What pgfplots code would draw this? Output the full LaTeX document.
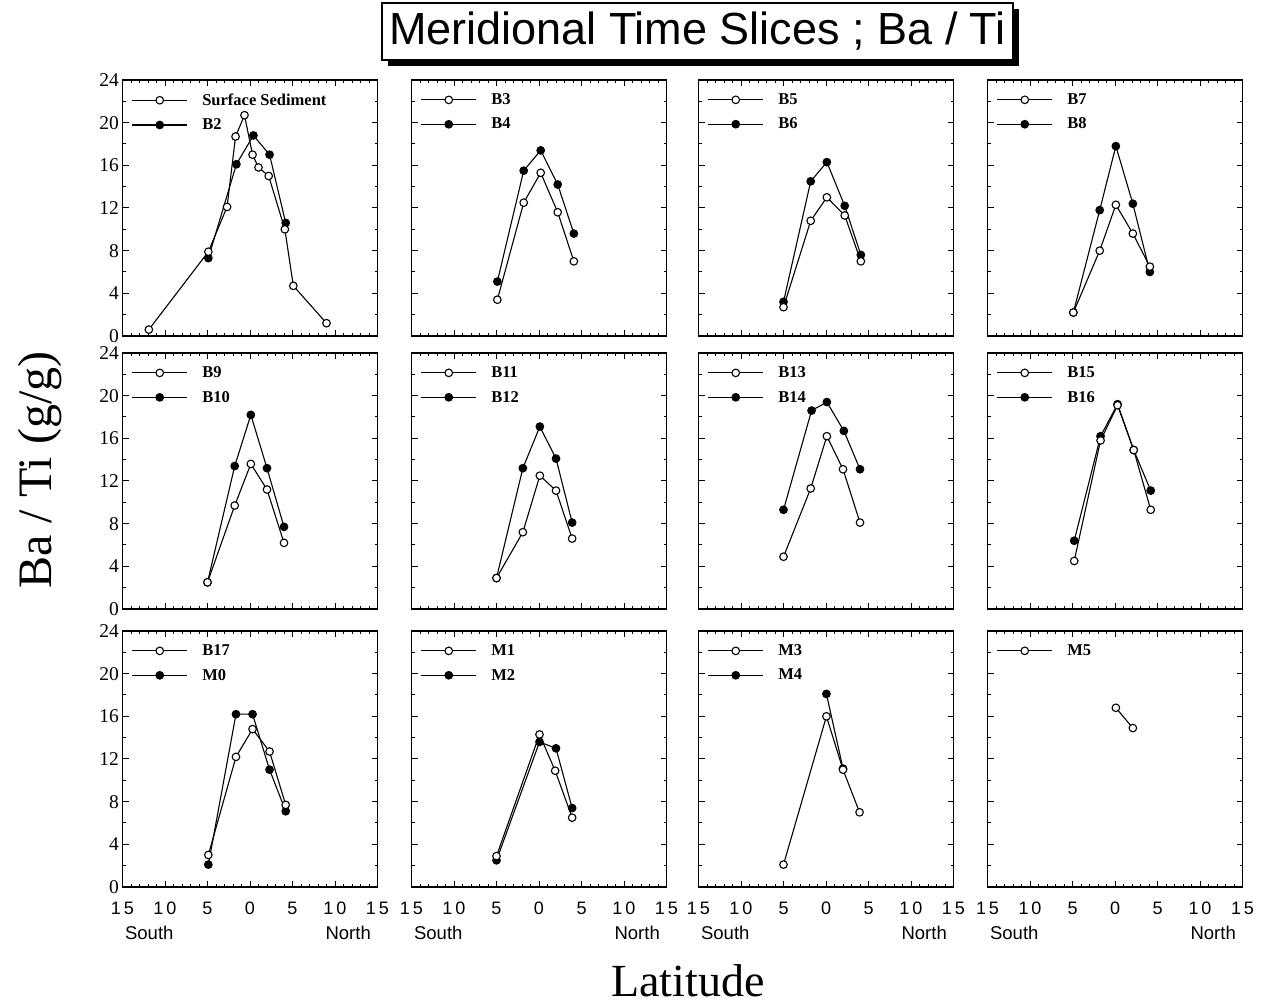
\documentclass[border=0pt]{standalone}
\usepackage{pgfplots}
\pgfplotsset{compat=1.18}
\usepackage{fontspec}
\setmainfont{Liberation Serif}
\setsansfont{Liberation Sans}
\usetikzlibrary{shadows}

\pgfplotsset{
 panel/.style={
  scale only axis, width=255pt, height=256pt, anchor=north west,
  xmin=-15,xmax=15,ymin=0,ymax=24,
  xtick={-15,-10,...,15}, minor x tick num=4,
  ytick={0,4,...,24}, minor y tick num=1,
  tick align=inside, major tick length=6pt, minor tick length=3pt,
  every tick/.style={line width=1pt, black},
  axis line style={line width=1.6pt},
  xticklabels={}, yticklabels={},
  clip=false,
  reverse legend,
  legend cell align=left,
  legend style={at={(0,1)}, anchor=north west, xshift=6pt, yshift=-9pt,
    draw=none, fill=none, font=\fontsize{16.5}{17}\selectfont\bfseries,
    row sep=7pt, column sep=12pt, nodes={inner sep=2.5pt}},
  legend image code/.code={\draw[mark repeat=2,mark phase=2,##1] plot coordinates {(0pt,0pt) (27.5pt,0pt) (55pt,0pt)};},
 },
 openS/.style={black, line width=1.1pt, mark=*, mark size=3.8pt, mark options={fill=white, solid}},
 fillS/.style={black, line width=1.1pt, mark=*, mark size=3.8pt, mark options={fill=black, solid}},
 leftcol/.style={yticklabels={0,4,8,12,16,20,24}, yticklabel style={font=\fontsize{19.5}{19.5}\selectfont}},
 bottomrow/.style={xticklabels={1\,5,1\,0,5,0,5,1\,0,1\,5}, xticklabel style={font=\sffamily\fontsize{18}{18}\selectfont, text height=13pt, text depth=0pt, yshift=-11pt}},
}
\newcommand{\SN}{%
 \node[font=\sffamily\fontsize{18.5}{18.5}\selectfont] at (rel axis cs:0.105,0) [yshift=-46pt] {South};
 \node[font=\sffamily\fontsize{18.5}{18.5}\selectfont] at (rel axis cs:0.885,0) [yshift=-46pt] {North};}

\begin{document}
\begin{tikzpicture}
\useasboundingbox (0pt,0pt) rectangle (1263pt,1008pt);

% Title
\node[draw, line width=1.4pt, fill=white, minimum width=631pt, minimum height=57pt, inner sep=0pt,
  font=\sffamily\fontsize{45}{45}\selectfont,
  drop shadow={shadow xshift=6pt, shadow yshift=-6pt, opacity=1, fill=black}]
  at (697.5pt,976.5pt) {Meridional Time Slices ; Ba / Ti};

\node[rotate=90, font=\fontsize{48}{48}\selectfont] at (40pt,538pt) {Ba / Ti (g/g)};
\node[font=\fontsize{46}{46}\selectfont] at (688pt,27pt) {Latitude};

% ---------- Row 1 ----------
\begin{axis}[panel, leftcol, at={(122.5pt,928pt)}]
\addplot[fillS] coordinates {(-4.9,7.3) (-1.6,16.1) (0.4,18.8) (2.3,17.0) (4.2,10.6)};
\addplot[openS] coordinates {(-11.9,0.6) (-4.9,7.9) (-2.7,12.1) (-1.7,18.7) (-0.65,20.7) (0.3,17.0) (1.0,15.8) (2.2,15.0) (4.1,10.0) (5.1,4.7) (9.0,1.2)};
\legend{B2,Surface Sediment}
\end{axis}

\begin{axis}[panel, at={(411.5pt,928pt)}]
\addplot[fillS] coordinates {(-4.9,5.1) (-1.8,15.5) (0.2,17.4) (2.2,14.2) (4.1,9.6)};
\addplot[openS] coordinates {(-4.9,3.4) (-1.8,12.5) (0.2,15.3) (2.2,11.6) (4.1,7.0)};
\legend{B4,B3}
\end{axis}

\begin{axis}[panel, at={(698.5pt,928pt)}]
\addplot[fillS] coordinates {(-5.0,3.2) (-1.8,14.5) (0.1,16.3) (2.2,12.2) (4.1,7.6)};
\addplot[openS] coordinates {(-5.0,2.7) (-1.8,10.8) (0.1,13.0) (2.2,11.3) (4.1,7.0)};
\legend{B6,B5}
\end{axis}

\begin{axis}[panel, at={(987.5pt,928pt)}]
\addplot[fillS] coordinates {(-4.9,2.2) (-1.8,11.8) (0.1,17.8) (2.1,12.4) (4.1,6.0)};
\addplot[openS] coordinates {(-4.9,2.2) (-1.8,8.0) (0.1,12.3) (2.1,9.6) (4.1,6.5)};
\legend{B8,B7}
\end{axis}

% ---------- Row 2 ----------
\begin{axis}[panel, leftcol, at={(122.5pt,655pt)}]
\addplot[fillS] coordinates {(-5.0,2.5) (-1.8,13.4) (0.1,18.2) (2.0,13.2) (4.0,7.7)};
\addplot[openS] coordinates {(-5.0,2.5) (-1.8,9.7) (0.1,13.6) (2.0,11.2) (4.0,6.2)};
\legend{B10,B9}
\end{axis}

\begin{axis}[panel, at={(411.5pt,655pt)}]
\addplot[fillS] coordinates {(-5.0,2.9) (-1.9,13.2) (0.1,17.1) (2.0,14.1) (3.9,8.1)};
\addplot[openS] coordinates {(-5.0,2.9) (-1.9,7.2) (0.1,12.5) (2.0,11.1) (3.9,6.6)};
\legend{B12,B11}
\end{axis}

\begin{axis}[panel, at={(698.5pt,655pt)}]
\addplot[fillS] coordinates {(-5.0,9.3) (-1.7,18.6) (0.1,19.4) (2.1,16.7) (4.0,13.1)};
\addplot[openS] coordinates {(-5.0,4.9) (-1.8,11.3) (0.1,16.2) (2.0,13.1) (4.0,8.1)};
\legend{B14,B13}
\end{axis}

\begin{axis}[panel, at={(987.5pt,655pt)}]
\addplot[fillS] coordinates {(-4.8,6.4) (-1.7,16.2) (0.3,19.2) (2.2,14.9) (4.2,11.1)};
\addplot[openS] coordinates {(-4.8,4.5) (-1.7,15.8) (0.3,19.1) (2.2,14.9) (4.2,9.3)};
\legend{B16,B15}
\end{axis}

% ---------- Row 3 ----------
\begin{axis}[panel, leftcol, bottomrow, at={(122.5pt,377pt)}]
\addplot[fillS] coordinates {(-4.9,2.1) (-1.65,16.2) (0.3,16.2) (2.3,11.0) (4.2,7.1)};
\addplot[openS] coordinates {(-4.9,3.0) (-1.65,12.2) (0.3,14.8) (2.3,12.7) (4.2,7.7)};
\legend{M0,B17}
\SN
\end{axis}

\begin{axis}[panel, bottomrow, at={(411.5pt,377pt)}]
\addplot[fillS] coordinates {(-5.0,2.5) (0.06,13.6) (2.0,13.0) (3.9,7.4)};
\addplot[openS] coordinates {(-5.0,2.9) (0.06,14.3) (1.9,10.9) (3.9,6.5)};
\legend{M2,M1}
\SN
\end{axis}

\begin{axis}[panel, bottomrow, at={(698.5pt,377pt)}]
\addplot[fillS] coordinates {(0.05,18.1) (2.0,11.1)};
\addplot[openS] coordinates {(-5.0,2.1) (0.05,16.0) (2.0,11.0) (3.95,7.0)};
\legend{M4,M3}
\SN
\end{axis}

\begin{axis}[panel, bottomrow, at={(987.5pt,377pt)}]
\addplot[openS] coordinates {(0.1,16.8) (2.1,14.9)};
\legend{M5}
\SN
\end{axis}

\end{tikzpicture}
\end{document}
